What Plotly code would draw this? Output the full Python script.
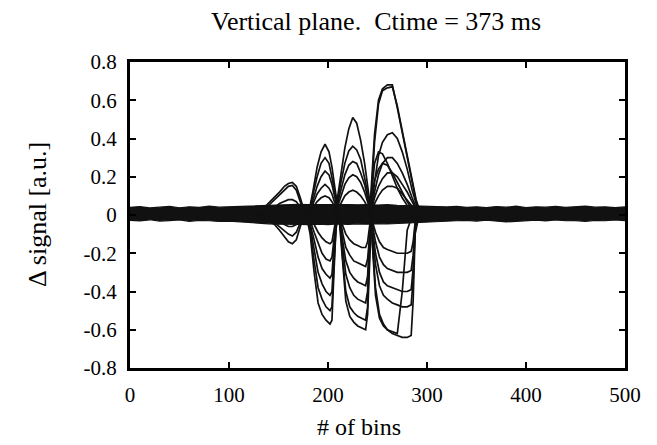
import plotly.graph_objects as go

# ---- noise envelope of the baseline (every 10 bins) ----
band_bins = list(range(0, 501, 10))
band_hi = [0.040, 0.044, 0.037, 0.042, 0.045, 0.038, 0.043, 0.040, 0.046, 0.041,
           0.043, 0.045, 0.047, 0.050, 0.052, 0.054, 0.055, 0.056, 0.054, 0.055,
           0.056, 0.054, 0.055, 0.053, 0.055, 0.052, 0.054, 0.051, 0.050, 0.048,
           0.046, 0.044, 0.042, 0.045, 0.040, 0.043, 0.039, 0.044, 0.041, 0.046,
           0.039, 0.043, 0.041, 0.045, 0.040, 0.042, 0.046, 0.041, 0.043, 0.039,
           0.042]
band_lo = [-0.028, -0.031, -0.025, -0.032, -0.029, -0.026, -0.033, -0.028, -0.030, -0.034,
           -0.032, -0.036, -0.040, -0.043, -0.046, -0.048, -0.050, -0.049, -0.050, -0.048,
           -0.050, -0.047, -0.049, -0.046, -0.048, -0.045, -0.047, -0.044, -0.042, -0.040,
           -0.038, -0.035, -0.033, -0.030, -0.028, -0.032, -0.027, -0.031, -0.036, -0.033,
           -0.029, -0.027, -0.031, -0.026, -0.030, -0.029, -0.033, -0.028, -0.030, -0.026,
           -0.029]

# ---- bunch 1 (around bin 162) ----
b1_bins = [128, 134, 140, 146, 151, 156, 160, 164, 168, 172, 176]
b1_lobes = [
    [0, 0.03, 0.06, 0.09, 0.12, 0.15, 0.165, 0.17, 0.15, 0.09, 0.02],
    [0, 0.02, 0.05, 0.08, 0.10, 0.13, 0.15, 0.155, 0.13, 0.07, 0.01],
    [0, 0.01, 0.03, 0.04, 0.06, 0.07, 0.08, 0.08, 0.07, 0.04, 0],
    [0, -0.01, -0.03, -0.05, -0.08, -0.11, -0.14, -0.15, -0.13, -0.06, 0],
    [0, -0.01, -0.02, -0.04, -0.06, -0.08, -0.10, -0.11, -0.09, -0.04, 0],
    [0, 0, -0.01, -0.02, -0.03, -0.05, -0.06, -0.06, -0.05, -0.02, 0],
]

# ---- bunch 2, positive side (around bin 197) ----
b2p_bins = [179, 182, 185, 189, 193, 197, 201, 204, 207, 209, 212]
b2p_lobes = [
    [0, 0.05, 0.13, 0.25, 0.33, 0.37, 0.33, 0.25, 0.14, 0.07, 0],
    [0, 0.04, 0.11, 0.20, 0.27, 0.30, 0.27, 0.20, 0.12, 0.06, 0],
    [0, 0.03, 0.08, 0.15, 0.20, 0.23, 0.21, 0.16, 0.09, 0.04, 0],
    [0, 0.02, 0.06, 0.11, 0.14, 0.16, 0.14, 0.11, 0.06, 0.03, 0],
    [0, 0.01, 0.04, 0.07, 0.09, 0.10, 0.09, 0.07, 0.04, 0.02, 0],
]

# ---- bunch 2, negative side (around bin 200) ----
b2n_bins = [178, 182, 186, 190, 194, 198, 202, 204, 206, 208, 210]
b2n_lobes = [
    [0, -0.10, -0.30, -0.46, -0.52, -0.55, -0.57, -0.55, -0.30, -0.08, 0],
    [0, -0.08, -0.24, -0.38, -0.44, -0.48, -0.50, -0.48, -0.26, -0.07, 0],
    [0, -0.06, -0.18, -0.30, -0.36, -0.40, -0.42, -0.40, -0.22, -0.06, 0],
    [0, -0.05, -0.13, -0.22, -0.28, -0.31, -0.33, -0.31, -0.17, -0.05, 0],
    [0, -0.03, -0.09, -0.15, -0.20, -0.23, -0.24, -0.22, -0.12, -0.04, 0],
    [0, -0.02, -0.05, -0.09, -0.12, -0.14, -0.15, -0.14, -0.08, -0.02, 0],
]

# ---- bunch 3, positive side (around bin 226) ----
b3p_bins = [207, 210, 213, 217, 221, 225, 229, 233, 237, 240, 244]
b3p_lobes = [
    [0, 0.11, 0.22, 0.35, 0.45, 0.51, 0.48, 0.39, 0.27, 0.15, 0],
    [0, 0.09, 0.17, 0.27, 0.335, 0.36, 0.34, 0.29, 0.20, 0.12, 0],
    [0, 0.07, 0.13, 0.21, 0.26, 0.28, 0.27, 0.22, 0.16, 0.09, 0],
    [0, 0.05, 0.10, 0.16, 0.195, 0.21, 0.20, 0.17, 0.12, 0.07, 0],
    [0, 0.03, 0.06, 0.10, 0.12, 0.13, 0.12, 0.10, 0.07, 0.04, 0],
]

# ---- bunch 3, negative side (around bin 230) ----
b3n_bins = [211, 213, 215, 218, 222, 226, 230, 234, 238, 240, 242, 244]
b3n_lobes = [
    [0, -0.12, -0.28, -0.45, -0.53, -0.56, -0.58, -0.59, -0.60, -0.52, -0.20, 0],
    [0, -0.10, -0.24, -0.40, -0.48, -0.51, -0.53, -0.54, -0.55, -0.48, -0.18, 0],
    [0, -0.08, -0.18, -0.31, -0.38, -0.42, -0.44, -0.45, -0.46, -0.40, -0.15, 0],
    [0, -0.06, -0.14, -0.24, -0.30, -0.33, -0.35, -0.36, -0.37, -0.32, -0.12, 0],
    [0, -0.04, -0.10, -0.17, -0.21, -0.24, -0.25, -0.26, -0.27, -0.23, -0.09, 0],
    [0, -0.03, -0.06, -0.10, -0.13, -0.15, -0.16, -0.17, -0.17, -0.14, -0.06, 0],
]

# ---- bunch 4, positive side (around bin 263) ----
b4p_bins = [242, 244, 247, 251, 255, 260, 265, 270, 275, 280, 285, 289, 294]
b4p_lobes = [
    [0, 0.15, 0.42, 0.60, 0.66, 0.68, 0.68, 0.56, 0.43, 0.30, 0.16, 0.07, 0],
    [0, 0.12, 0.38, 0.58, 0.65, 0.665, 0.67, 0.57, 0.44, 0.31, 0.17, 0.08, 0],
    [0, 0.05, 0.17, 0.31, 0.38, 0.42, 0.43, 0.40, 0.33, 0.24, 0.13, 0.06, 0],
    [0, 0.12, 0.27, 0.33, 0.32, 0.27, 0.20, 0.14, 0.09, 0.05, 0.02, 0.01, 0],
    [0, 0.04, 0.12, 0.21, 0.27, 0.30, 0.30, 0.27, 0.22, 0.16, 0.09, 0.04, 0],
    [0, 0.08, 0.18, 0.24, 0.27, 0.26, 0.22, 0.17, 0.12, 0.07, 0.03, 0.01, 0],
    [0, 0.03, 0.09, 0.15, 0.19, 0.22, 0.22, 0.20, 0.16, 0.12, 0.07, 0.03, 0],
    [0, 0.02, 0.06, 0.10, 0.13, 0.15, 0.15, 0.14, 0.11, 0.08, 0.05, 0.02, 0],
]

# ---- bunch 4, negative side (around bin 268) ----
b4n_bins = [243, 245, 248, 252, 256, 260, 265, 270, 275, 280, 284, 286, 288, 292]
b4n_lobes = [
    [0, -0.18, -0.42, -0.54, -0.58, -0.60, -0.62, -0.63, -0.64, -0.64, -0.63, -0.45, -0.10, 0],
    [0, -0.15, -0.38, -0.52, -0.57, -0.60, -0.61, -0.62, -0.40, -0.08, -0.02, 0, 0, 0],
    [0, -0.10, -0.26, -0.37, -0.42, -0.44, -0.46, -0.47, -0.48, -0.48, -0.47, -0.34, -0.08, 0],
    [0, -0.08, -0.20, -0.30, -0.35, -0.37, -0.38, -0.39, -0.40, -0.40, -0.39, -0.28, -0.07, 0],
    [0, -0.06, -0.14, -0.22, -0.26, -0.28, -0.29, -0.30, -0.30, -0.30, -0.29, -0.21, -0.05, 0],
    [0, -0.04, -0.09, -0.14, -0.17, -0.18, -0.19, -0.20, -0.20, -0.20, -0.19, -0.14, -0.04, 0],
]

bunches = [
    (b1_bins, b1_lobes),
    (b2p_bins, b2p_lobes),
    (b2n_bins, b2n_lobes),
    (b3p_bins, b3p_lobes),
    (b3n_bins, b3n_lobes),
    (b4p_bins, b4p_lobes),
    (b4n_bins, b4n_lobes),
]

x_ticks = [0, 100, 200, 300, 400, 500]
y_ticks = [-0.8, -0.6, -0.4, -0.2, 0, 0.2, 0.4, 0.6, 0.8]
y_labels = ["-0.8", "-0.6", "-0.4", "-0.2", "0", "0.2", "0.4", "0.6", "0.8"]

FONT = "Liberation Serif"
INK = "#111111"

fig = go.Figure()

# baseline noise band
fig.add_trace(go.Scatter(x=band_bins, y=band_hi, mode="lines",
                         line=dict(color=INK, width=1.2), hoverinfo="skip"))
fig.add_trace(go.Scatter(x=band_bins, y=band_lo, mode="lines", fill="tonexty",
                         fillcolor=INK, line=dict(color=INK, width=1.2), hoverinfo="skip"))

# signal lobes of every recorded turn
for bins, lobes in bunches:
    for vals in lobes:
        fig.add_trace(go.Scatter(x=bins, y=vals, mode="lines",
                                 line=dict(color=INK, width=1.7)))

axis_common = dict(showline=True, linecolor="black", linewidth=3, mirror="allticks",
                   ticks="inside", ticklen=6, tickwidth=2, tickcolor="black",
                   showgrid=False, zeroline=False,
                   tickfont=dict(family=FONT, size=21, color="black"))

fig.update_xaxes(range=[0, 500], tickvals=x_ticks, ticktext=[str(v) for v in x_ticks],
                 ticklabelstandoff=6, **axis_common)
fig.update_yaxes(range=[-0.8, 0.8], tickvals=y_ticks, ticktext=y_labels,
                 ticklabelstandoff=6, **axis_common)

fig.add_annotation(text="Vertical plane.  Ctime = 373 ms", xref="paper", yref="paper",
                   x=0.497, y=1.0, yshift=41, xanchor="center", yanchor="middle",
                   showarrow=False, font=dict(family=FONT, size=26, color="black"))
fig.add_annotation(text="# of bins", xref="paper", yref="paper",
                   x=0.463, y=0, yshift=-59, xanchor="center", yanchor="middle",
                   showarrow=False, font=dict(family=FONT, size=24, color="black"))
fig.add_annotation(text="Δ signal [a.u.]", xref="paper", yref="paper",
                   x=0, xshift=-93, y=0.5, xanchor="center", yanchor="middle",
                   textangle=-90, showarrow=False,
                   font=dict(family=FONT, size=26, color="black"))

fig.update_layout(width=657, height=445, showlegend=False,
                  margin=dict(l=130, r=32, t=62, b=77),
                  paper_bgcolor="white", plot_bgcolor="white")

fig.write_html("out.html")
